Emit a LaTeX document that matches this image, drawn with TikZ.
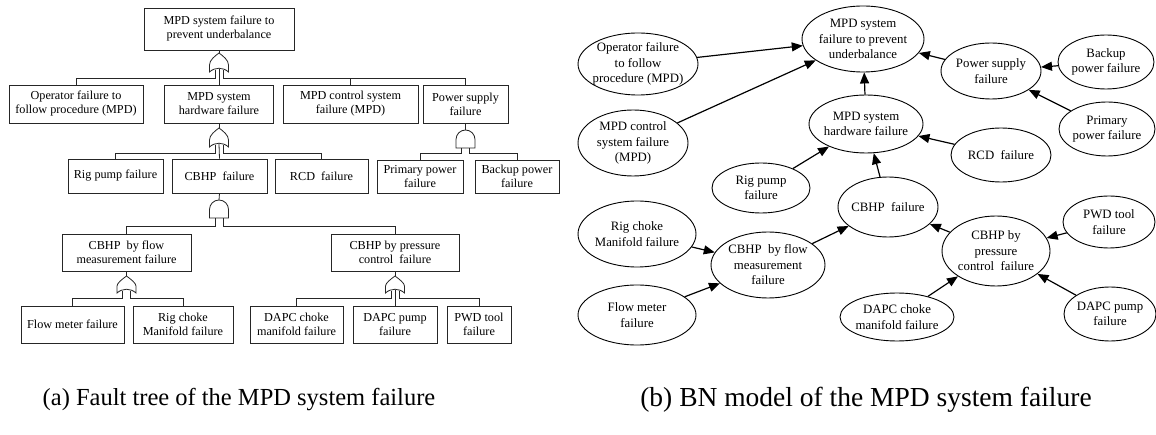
\documentclass[tikz,border=0pt]{standalone}
\usepackage{fontspec}
\setmainfont{Liberation Serif}
\usetikzlibrary{shapes.geometric,arrows.meta}
\newcommand\myorgate[3]{%
  \draw[gate] ({#1-9.5},#3) -- ({#1-9.5},{#3-7}) .. controls ({#1-9.5},{#2+7}) and ({#1-4},{#2+3}) .. (#1,#2)
    .. controls ({#1+4},{#2+3}) and ({#1+9.5},{#2+7}) .. ({#1+9.5},{#3-7}) -- ({#1+9.5},#3)
    .. controls ({#1+4},{#3-5}) and ({#1-4},{#3-5}) .. ({#1-9.5},#3) -- cycle;}
\newcommand\myandgate[3]{%
  \draw[gate] ({#1-9.5},#3) -- ({#1-9.5},{#2+9.5}) arc[start angle=180,end angle=0,radius=9.5pt] -- ({#1+9.5},#3) -- cycle;}
\begin{document}
\begin{tikzpicture}[x=1pt,y=-1pt,
  box/.style={draw=black!85,line width=0.8pt,rectangle,inner sep=0pt,align=center,font=\fontsize{12.2}{14}\selectfont},
  gate/.style={draw=black!85,line width=0.8pt,fill=white},
  wire/.style={draw=black!85,line width=0.8pt},
  bn/.style={draw=black,line width=0.9pt,ellipse,inner sep=0pt},
  bnt/.style={align=center,font=\fontsize{12.8}{15.5}\selectfont,inner sep=0pt},
  arr/.style={line width=1.2pt,-{Triangle[length=11pt,width=9pt]}},
  captext/.style={inner sep=0pt}]
\useasboundingbox (0,0) rectangle (1156,435);
% ---------- (a) fault tree ----------
\node[box,minimum width=150,minimum height=42] (ft0) at (219,29) {MPD system failure to\\prevent underbalance};
\node[box,minimum width=134,minimum height=38] (op) at (76,104) {Operator failure to\\follow procedure (MPD)};
\node[box,minimum width=109,minimum height=38] (hw) at (219,104) {MPD system\\hardware failure};
\node[box,minimum width=135,minimum height=38] (ctl) at (350.5,104) {MPD control system\\failure (MPD)};
\node[box,minimum width=85,minimum height=38] (pw) at (465.5,104) {Power supply\\failure};
\node[box,minimum width=95,minimum height=34] (rig) at (115.5,176) {Rig pump failure};
\node[box,minimum width=95,minimum height=34] (cb) at (219.5,176) {CBHP~~failure};
\node[box,minimum width=93,minimum height=34] (rcd) at (321.5,176) {RCD~~failure};
\node[box,minimum width=86,minimum height=33] (prim) at (420,176.5) {Primary power\\failure};
\node[box,minimum width=84,minimum height=33] (back) at (517,176.5) {Backup power\\failure};
\node[box,minimum width=129,minimum height=37] (flow) at (126.5,252.5) {CBHP~~by flow\\measurement failure};
\node[box,minimum width=128,minimum height=37] (pres) at (395,252.5) {CBHP by pressure\\control~~failure};
\node[box,minimum width=103,minimum height=37] (fm) at (72.5,324.5) {Flow meter failure};
\node[box,minimum width=100,minimum height=37] (rc) at (183,324.5) {Rig choke\\Manifold failure};
\node[box,minimum width=93,minimum height=37] (dc) at (296.5,324.5) {DAPC choke\\manifold failure};
\node[box,minimum width=84,minimum height=37] (dp) at (395,324.5) {DAPC pump\\failure};
\node[box,minimum width=64,minimum height=37] (pwd) at (479,324.5) {PWD tool\\failure};
% gate 1 (OR) under top event
\coordinate (g1o) at (219,53); \coordinate (g1l) at (215,70); \coordinate (g1r) at (223,70);
\coordinate (g1c) at (219,69); \coordinate (g1b) at (219,78);
\draw[wire] (ft0.south) -- (g1o);
\draw[wire] (g1l) |- (op.north |- g1b) -- (op.north);
\draw[wire] (g1r) |- (pw.north |- g1b) -- (pw.north);
\draw[wire] (ctl.north) -- (ctl.north |- g1b);
\draw[wire] (g1c) -- (hw.north);
\myorgate{219}{53}{72}
% gate 2 (OR) under hardware
\coordinate (g2o) at (219,128); \coordinate (g2l) at (215,145); \coordinate (g2r) at (223,145);
\coordinate (g2c) at (219,144); \coordinate (g2b) at (219,153);
\draw[wire] (hw.south) -- (g2o);
\draw[wire] (g2l) |- (rig.north |- g2b) -- (rig.north);
\draw[wire] (g2r) |- (rcd.north |- g2b) -- (rcd.north);
\draw[wire] (g2c) -- (cb.north);
\myorgate{219}{128}{147}
% gate 6 (AND) under power supply
\coordinate (g6o) at (465.5,130); \coordinate (g6l) at (461.5,148); \coordinate (g6r) at (469.5,148);
\coordinate (g6b) at (465.5,153);
\draw[wire] (pw.south) -- (g6o);
\draw[wire] (g6l) |- (prim.north |- g6b) -- (prim.north);
\draw[wire] (g6r) |- (back.north |- g6b) -- (back.north);
\myandgate{465.5}{130}{148}
% gate 3 (AND) under CBHP
\coordinate (g3o) at (219,200); \coordinate (g3l) at (215,218); \coordinate (g3r) at (223,218);
\coordinate (g3b) at (219,226);
\draw[wire] (cb.south) -- (g3o);
\draw[wire] (g3l) |- (flow.north |- g3b) -- (flow.north);
\draw[wire] (g3r) |- (pres.north |- g3b) -- (pres.north);
\myandgate{219}{200}{218}
% gate 4 (OR) under flow
\coordinate (g4o) at (126.5,276); \coordinate (g4l) at (122.5,291); \coordinate (g4r) at (130.5,291);
\coordinate (g4b) at (126.5,298);
\draw[wire] (flow.south) -- (g4o);
\draw[wire] (g4l) |- (fm.north |- g4b) -- (fm.north);
\draw[wire] (g4r) |- (rc.north |- g4b) -- (rc.north);
\myorgate{126.5}{276}{293}
% gate 5 (OR) under pressure
\coordinate (g5o) at (395,276); \coordinate (g5l) at (391,291); \coordinate (g5r) at (399,291);
\coordinate (g5c) at (395,290); \coordinate (g5b) at (395,298);
\draw[wire] (pres.south) -- (g5o);
\draw[wire] (g5l) |- (dc.north |- g5b) -- (dc.north);
\draw[wire] (g5r) |- (pwd.north |- g5b) -- (pwd.north);
\draw[wire] (g5c) -- (dp.north);
\myorgate{395}{276}{293}
% ---------- (b) BN model ----------
\node[bn,minimum width=122,minimum height=66,label={[bnt]center:MPD system\\failure to prevent\\underbalance}] (T) at (863,39) {};
\node[bn,minimum width=120,minimum height=62,label={[bnt]center:Operator failure\\to follow\\procedure (MPD)}] (O) at (638,64) {};
\node[bn,minimum width=110,minimum height=66,label={[bnt]center:MPD control\\system failure\\(MPD)}] (C) at (633,143) {};
\node[bn,minimum width=98,minimum height=50,label={[bnt]center:Rig pump\\failure}] (R) at (761,188) {};
\node[bn,minimum width=114,minimum height=58,label={[bnt]center:MPD system\\hardware failure}] (H) at (866,124) {};
\node[bn,minimum width=100,minimum height=56,label={[bnt]center:Power supply\\failure}] (P) at (991,71) {};
\node[bn,minimum width=96,minimum height=54,label={[bnt]center:Backup\\power failure}] (B) at (1106,62) {};
\node[bn,minimum width=96,minimum height=54,label={[bnt]center:Primary\\power failure}] (PP) at (1107,129) {};
\node[bn,minimum width=100,minimum height=54,label={[bnt]center:RCD~~failure}] (RCD) at (1001,155) {};
\node[bn,minimum width=100,minimum height=60,label={[bnt]center:CBHP~~failure}] (CB) at (888,207) {};
\node[bn,minimum width=114,minimum height=66,label={[bnt]center:CBHP~~by flow\\measurement\\failure}] (F) at (768,265) {};
\node[bn,minimum width=118,minimum height=66,label={[bnt]center:Rig choke\\Manifold failure}] (RC) at (637,234) {};
\node[bn,minimum width=118,minimum height=60,label={[bnt]center:Flow meter\\failure}] (FM) at (637,315) {};
\node[bn,minimum width=108,minimum height=70,label={[bnt]center:CBHP by\\pressure\\control~~failure}] (PR) at (996,251) {};
\node[bn,minimum width=92,minimum height=52,label={[bnt]center:PWD tool\\failure}] (PWD) at (1109,222) {};
\node[bn,minimum width=114,minimum height=48,label={[bnt]center:DAPC choke\\manifold failure}] (DC) at (897,317) {};
\node[bn,minimum width=92,minimum height=54,label={[bnt]center:DAPC pump\\failure}] (DP) at (1110,314) {};
\draw[arr] (O) -- (T);
\draw[arr] (C) -- (T);
\draw[arr] (H) -- (T);
\draw[arr] (P) -- (T);
\draw[arr] (B) -- (P);
\draw[arr] (PP) -- (P);
\draw[arr] (R) -- (H);
\draw[arr] (RCD) -- (H);
\draw[arr] (CB) -- (H);
\draw[arr] (F) -- (CB);
\draw[arr] (PR) -- (CB);
\draw[arr] (RC) -- (F);
\draw[arr] (FM) -- (F);
\draw[arr] (PWD) -- (PR);
\draw[arr] (DC) -- (PR);
\draw[arr] (DP) -- (PR);
% ---------- captions ----------
\node[captext,font=\fontsize{24.5}{28}\selectfont] (capa) at (239,400) {(a) Fault tree of the MPD system failure};
\node[captext,font=\fontsize{27.5}{31}\selectfont] (capb) at (866,400) {(b) BN model of the MPD system failure};
\end{tikzpicture}
\end{document}
